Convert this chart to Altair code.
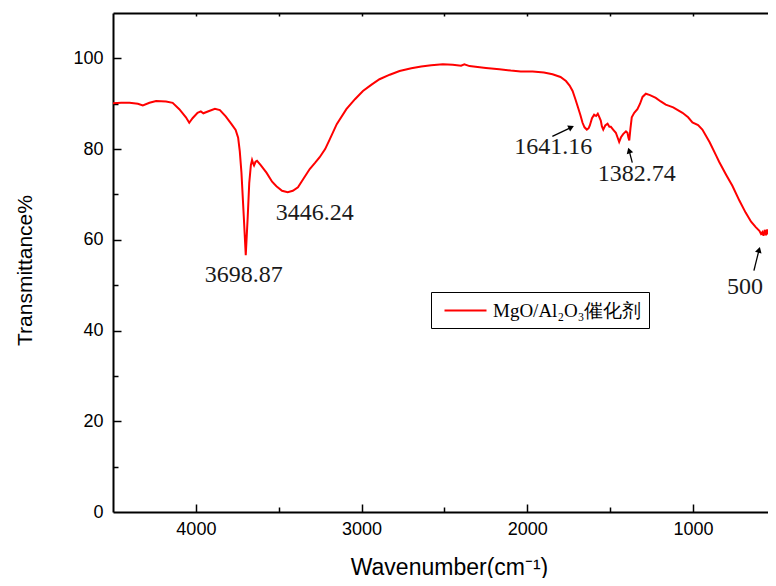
import altair as alt
import pandas as pd

# ---- spectrum ----
wavenumber = [4500, 4450, 4400, 4350, 4320, 4280, 4240, 4180, 4140, 4100, 4060, 4040, 4020, 3990,
              3970, 3955, 3920, 3885, 3855, 3820, 3785, 3760, 3745, 3735, 3725, 3711, 3699, 3687,
              3678, 3668, 3661, 3654, 3649, 3640, 3631, 3610, 3574, 3540, 3514, 3480, 3446, 3415,
              3384, 3350, 3313, 3280, 3253, 3220, 3193, 3150, 3092, 3040, 2992, 2940, 2892, 2830,
              2771, 2700, 2640, 2580, 2510, 2450, 2400, 2380, 2349, 2300, 2250, 2169, 2100, 2040,
              1968, 1900, 1848, 1800, 1767, 1745, 1727, 1710, 1697, 1680, 1667, 1655, 1641, 1630,
              1623, 1610, 1597, 1585, 1575, 1565, 1557, 1550, 1542, 1530, 1516, 1505, 1496, 1480,
              1466, 1455, 1446, 1435, 1422, 1405, 1396, 1390, 1385, 1378, 1370, 1355, 1336, 1320,
              1305, 1285, 1260, 1225, 1195, 1165, 1120, 1064, 1030, 1004, 970, 944, 900, 860, 843,
              800, 763, 720, 683, 650, 622, 600, 590, 582, 575, 568, 560, 553, 545, 538, 530, 522,
              515, 508, 500]
transmittance = [90.1, 90.2, 90.2, 90.0, 89.6, 90.2, 90.6, 90.5, 90.2, 88.8, 87.0, 85.8, 86.8, 88.0,
                 88.3, 87.9, 88.4, 88.9, 88.6, 87.2, 85.5, 84.2, 82.5, 79.5, 74.8, 65.2, 56.6, 65.2,
                 72.5, 76.5, 77.6, 76.8, 76.4, 77.2, 77.4, 76.5, 74.8, 72.8, 71.8, 70.8, 70.5, 70.8,
                 71.6, 73.5, 75.6, 77.0, 78.2, 80.0, 82.1, 85.5, 88.8, 91.0, 92.8, 94.2, 95.4, 96.4,
                 97.2, 97.8, 98.2, 98.5, 98.7, 98.6, 98.4, 98.7, 98.3, 98.1, 97.9, 97.6, 97.3, 97.1,
                 97.1, 96.9, 96.5, 95.9, 95.0, 94.0, 92.8, 91.0, 89.5, 87.5, 85.8, 84.8, 84.3, 84.6,
                 85.2, 86.8, 87.6, 87.3, 87.8, 87.0, 86.3, 85.0, 84.3, 85.2, 85.6, 84.9, 84.9, 84.2,
                 83.6, 82.5, 81.6, 82.6, 83.3, 83.9, 83.6, 82.5, 81.9, 84.5, 87.0, 88.0, 88.8, 90.0,
                 91.5, 92.2, 91.9, 91.3, 90.5, 89.8, 89.2, 88.0, 87.0, 85.9, 85.3, 84.3, 81.5, 78.5, 77.2,
                 74.3, 71.9, 68.6, 66.0, 64.0, 62.8, 62.0, 61.3, 61.7, 60.9, 62.2, 61.0, 62.3, 61.2,
                 62.5, 60.8, 62.1, 61.4, 62.4, 61.5]
series_name = "MgO/Al₂O₃催化剂"

# ---- peak annotations ----
peak_labels = ["3698.87", "3446.24", "1641.16", "1382.74", "500"]
label_wn = [3711, 3283, 1843, 1340, 687]
label_t = [52.3, 66.0, 80.4, 74.6, 49.7]

arrow_wn_start = [1849, 1367, 633]
arrow_t_start = [82.8, 77.0, 53.2]
arrow_wn_head = [1735, 1386, 602]
arrow_t_head = [84.8, 79.7, 57.8]
arrow_angle = [64, 343, 16]

# ---- axes ----
x_major = [4000, 3000, 2000, 1000]
x_minor = [3500, 2500, 1500]
x_top = [4000, 3500, 3000, 2500, 2000, 1500, 1000]
y_major = [0, 20, 40, 60, 80, 100]
y_major_ticks = [20, 40, 60, 80, 100]
y_minor = [10, 30, 50, 70, 90]

W, H = 655, 499

spec = pd.DataFrame({"wn": wavenumber, "t": transmittance, "series": series_name})
labels = pd.DataFrame({"wn": label_wn, "t": label_t, "txt": peak_labels})
arrows = pd.DataFrame({"wn": arrow_wn_start, "t": arrow_t_start,
                       "wn2": arrow_wn_head, "t2": arrow_t_head, "ang": arrow_angle})

xs = alt.Scale(domain=[548, 4500], reverse=True, nice=False, zero=False)
ys = alt.Scale(domain=[0, 110], nice=False, zero=False)

common = dict(grid=False, labelColor="black", tickColor="black", domainColor="black")

ax_x_main = alt.Axis(orient="bottom", values=x_major, ticks=False, domain=True, domainWidth=2,
                     labelFont="Liberation Sans", labelFontSize=18, labelPadding=8, labelFlush=False,
                     format="d", title="Wavenumber(cm⁻¹)", titleFont="Liberation Sans",
                     titleFontSize=23, titleFontWeight="normal", titleColor="black",
                     titleX=336, titleY=55, titleBaseline="middle", titleAlign="center", **common)
ax_x_maj = alt.Axis(orient="top", offset=-H, values=x_major, labels=False, domain=False,
                    tickSize=8, tickWidth=1.5, title=None, **common)
ax_x_min = alt.Axis(orient="top", offset=-H, values=x_minor, labels=False, domain=False,
                    tickSize=5, tickWidth=1.5, title=None, **common)
ax_x_top = alt.Axis(orient="bottom", offset=-H, values=x_top, labels=False, domain=True,
                    domainWidth=2, tickSize=3, tickWidth=1.5, title=None, **common)

ay_main = alt.Axis(orient="left", values=y_major, ticks=False, domain=True, domainWidth=2,
                   labelFont="Liberation Sans", labelFontSize=18, labelPadding=10,
                   title="Transmittance%", titleFont="Liberation Sans", titleFontSize=21,
                   titleFontWeight="normal", titleColor="black", titleAngle=270,
                   titleX=-88, titleY=257, titleBaseline="middle", titleAlign="center", **common)
ay_maj = alt.Axis(orient="right", offset=-W, values=y_major_ticks, labels=False, domain=False,
                  tickSize=8, tickWidth=1.5, title=None, **common)
ay_min = alt.Axis(orient="right", offset=-W, values=y_minor, labels=False, domain=False,
                  tickSize=5, tickWidth=1.5, title=None, **common)

legend = alt.Legend(title=None, orient="none", legendX=318, legendY=279, strokeColor="black",
                    fillColor="white", padding=7, symbolType="M-2,0H2", symbolStrokeWidth=2,
                    symbolSize=441, symbolOffset=16, labelFont="Liberation Serif", labelFontSize=19,
                    labelColor="black", labelOffset=16, labelLimit=300)

line = alt.Chart(spec).mark_line(strokeWidth=2, clip=True).encode(
    x=alt.X("wn:Q", scale=xs, axis=ax_x_main),
    y=alt.Y("t:Q", scale=ys, axis=ay_main),
    color=alt.Color("series:N", scale=alt.Scale(range=["#ff0000"]), legend=legend),
    order=alt.Order("idx:Q"),
).transform_window(idx="row_number()")

shafts = alt.Chart(arrows).mark_rule(color="black", strokeWidth=1.3).encode(
    x=alt.X("wn:Q", scale=xs, axis=ax_x_maj),
    y=alt.Y("t:Q", scale=ys, axis=ay_maj),
    x2="wn2:Q", y2="t2:Q",
)

heads = alt.Chart(arrows).mark_point(shape="triangle-up", filled=True, color="black",
                                     size=45, opacity=1).encode(
    x=alt.X("wn2:Q", scale=xs, axis=ax_x_min),
    y=alt.Y("t2:Q", scale=ys, axis=ay_min),
    angle=alt.Angle("ang:Q", scale=None),
)

texts = alt.Chart(labels).mark_text(font="Liberation Serif", fontSize=24, color="#1a1a1a",
                                    baseline="middle", align="center").encode(
    x=alt.X("wn:Q", scale=xs, axis=ax_x_top),
    y=alt.Y("t:Q", scale=ys, axis=None),
    text="txt:N",
)

chart = alt.layer(line, shafts, heads, texts).resolve_axis(
    x="independent", y="independent"
).properties(
    width=W, height=H,
    autosize=alt.AutoSizeParams(type="none"),
    padding={"left": 105, "top": 5, "right": 0, "bottom": 66},
).configure_view(stroke=None)

chart.save("out.html", embed_options={"renderer": "svg", "actions": False})
